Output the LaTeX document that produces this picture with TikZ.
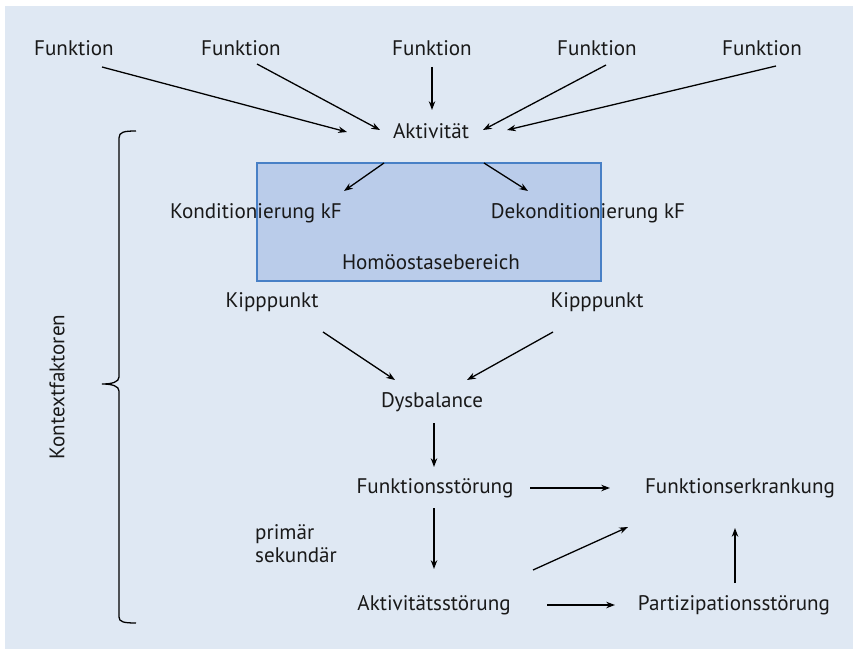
\documentclass[tikz,border=0pt]{standalone}
\usepackage{fontspec}
\setmainfont{PT Sans}
\usetikzlibrary{arrows.meta, positioning}
\definecolor{paneBlue}{RGB}{223, 232, 243}
\definecolor{zoneBlue}{RGB}{186, 204, 234}
\definecolor{zoneEdge}{RGB}{72, 128, 198}
\tikzset{
    % Text labels
    term/.style={
        inner sep=0pt,
        font=\fontsize{18}{19.6}\selectfont,
        text=black!90
    },
    % Homeostasis zone
    zone/.style={
        rectangle,
        fill=zoneBlue,
        draw=zoneEdge,
        line width=1.1pt,
        minimum width=10.32cm,
        minimum height=3.54cm,
        inner sep=0pt
    },
    % Arrow & brace styles
    arrow/.style={-{Stealth[length=7.5pt, width=5.5pt]}, line width=1.1pt, draw=black},
    bracket/.style={line width=1.1pt, draw=black}
}

\begin{document}
\begin{tikzpicture}[x=0.03cm, y=-0.03cm]

    % --- Canvas ---
    \useasboundingbox (0,0) rectangle (853,649);
    \fill[paneBlue] (5,6) rectangle (853,649);

    % --- Homeostasis zone ---
    \node (zone) [zone] at (429,222) {};

    % --- Top row (Funktionen) ---
    \node (fun1) [term] at (74,48) {Funktion};
    \node (fun2) [term] at (241,48) {Funktion};
    \node (fun3) [term] at (432,48) {Funktion};
    \node (fun4) [term] at (597,48) {Funktion};
    \node (fun5) [term] at (762,48) {Funktion};

    \node (akt) [term] at (431,131) {Aktivität};

    % --- Inside the zone ---
    \node (kond) [term] at (256,213) {Konditionierung kF};
    \node (dekond) [term] at (588,213) {Dekonditionierung kF};
    \node (homeo) [term] at (431,262) {Homöostasebereich};

    \node (kippL) [term] at (272,302) {Kipppunkt};
    \node (kippR) [term] at (597,302) {Kipppunkt};

    % --- Disorder chain ---
    \node (dys) [term] at (432,402) {Dysbalance};
    \node (fstoer) [term] at (435,488) {Funktionsstörung};
    \node (astoer) [term] at (434,605) {Aktivitätsstörung};
    \node (ferkr) [term] at (740,488) {Funktionserkrankung};
    \node (pstoer) [term] at (734,605) {Partizipationsstörung};

    \node (prisek) [term, anchor=west, align=left] at (255,544) {primär\\sekundär};

    % --- Context factors ---
    \node (kontext) [term, rotate=90] at (57,387) {Kontextfaktoren};
    \draw [bracket] (136,131) .. controls (124,131) and (119,132) .. (119,138)
        -- (119,377) .. controls (119,382) and (112,384) .. (102,384)
        .. controls (112,384) and (119,386) .. (119,391)
        -- (119,617) .. controls (119,622) and (124,623) .. (136,623);

    % --- Arrows ---
    \draw [arrow] ([shift={(28,19)}]fun1.center) -- ([shift={(-84,1)}]akt.center);
    \draw [arrow] ([shift={(16,16)}]fun2.center) -- ([shift={(-51,-1)}]akt.center);
    \draw [arrow] ([shift={(0,19)}]fun3.center) -- ([shift={(1,-21)}]akt.center);
    \draw [arrow] ([shift={(9,17)}]fun4.center) -- ([shift={(52,-1)}]akt.center);
    \draw [arrow] ([shift={(14,18)}]fun5.center) -- ([shift={(76,-1)}]akt.center);

    \draw [arrow] ([shift={(-47,32)}]akt.center) -- ([shift={(88,-22)}]kond.center);
    \draw [arrow] ([shift={(53,32)}]akt.center) -- ([shift={(-60,-22)}]dekond.center);

    \draw [arrow] ([shift={(51,30)}]kippL.center) -- ([shift={(-37,-22)}]dys.center);
    \draw [arrow] ([shift={(-44,30)}]kippR.center) -- ([shift={(35,-22)}]dys.center);

    \draw [arrow] ([shift={(2,21)}]dys.center) -- ([shift={(-1,-21)}]fstoer.center);
    \draw [arrow] ([shift={(-1,20)}]fstoer.center) -- ([shift={(0,-36)}]astoer.center);
    \draw [arrow] ([shift={(95,0)}]fstoer.center) -- ([shift={(-130,0)}]ferkr.center);
    \draw [arrow] ([shift={(113,0)}]astoer.center) -- ([shift={(-119,0)}]pstoer.center);
    \draw [arrow] ([shift={(99,-35)}]astoer.center) -- ([shift={(-112,39)}]ferkr.center);
    \draw [arrow] ([shift={(1,-22)}]pstoer.center) -- ([shift={(-5,40)}]ferkr.center);

\end{tikzpicture}
\end{document}
